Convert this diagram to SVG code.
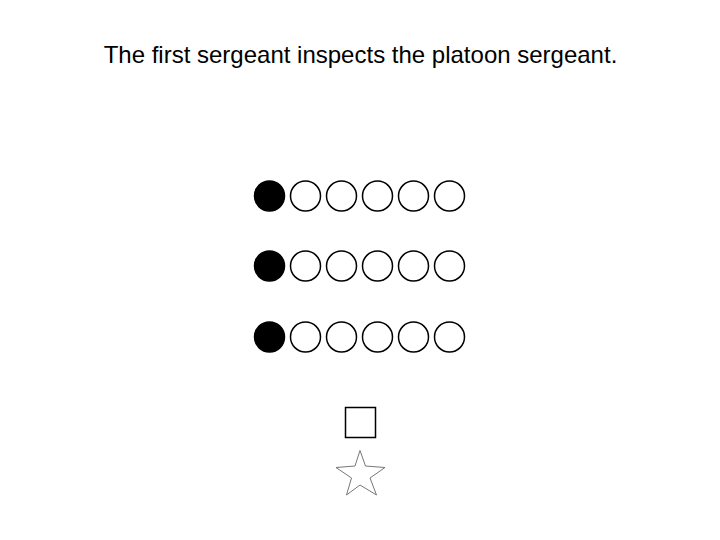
<svg xmlns="http://www.w3.org/2000/svg" width="720" height="540" viewBox="0 0 720 540">
<style>
.t{font-family:"Liberation Sans",Arial,sans-serif;font-size:24px;fill:#000}
.f{fill:#000;stroke:#000;stroke-width:1.5}
.o{fill:#fff;stroke:#000;stroke-width:1.5}
</style>
<rect width="720" height="540" fill="#fff"/>
<text class="t" x="360.5" y="63" text-anchor="middle">The first sergeant inspects the platoon sergeant.</text>
<g id="row1">
<circle class="f" cx="269.5" cy="196" r="15"/>
<circle class="o" cx="305.5" cy="196" r="15"/>
<circle class="o" cx="341.5" cy="196" r="15"/>
<circle class="o" cx="377.5" cy="196" r="15"/>
<circle class="o" cx="413.5" cy="196" r="15"/>
<circle class="o" cx="449.5" cy="196" r="15"/>
</g>
<g id="row2">
<circle class="f" cx="269.5" cy="266" r="15"/>
<circle class="o" cx="305.5" cy="266" r="15"/>
<circle class="o" cx="341.5" cy="266" r="15"/>
<circle class="o" cx="377.5" cy="266" r="15"/>
<circle class="o" cx="413.5" cy="266" r="15"/>
<circle class="o" cx="449.5" cy="266" r="15"/>
</g>
<g id="row3">
<circle class="f" cx="269.5" cy="337" r="15"/>
<circle class="o" cx="305.5" cy="337" r="15"/>
<circle class="o" cx="341.5" cy="337" r="15"/>
<circle class="o" cx="377.5" cy="337" r="15"/>
<circle class="o" cx="413.5" cy="337" r="15"/>
<circle class="o" cx="449.5" cy="337" r="15"/>
</g>
<g id="square">
<rect x="345.5" y="407.5" width="30" height="30" fill="#fff" stroke="#000" stroke-width="1.5"/>
</g>
<g id="star">
<polygon points="360,450.5 365.5,466 385,467.5 370,478 376.5,495 360,485 346.5,495 351.5,478 336,467.5 355,466" fill="#fff" stroke="#777" stroke-width="1"/>
</g>
</svg>
